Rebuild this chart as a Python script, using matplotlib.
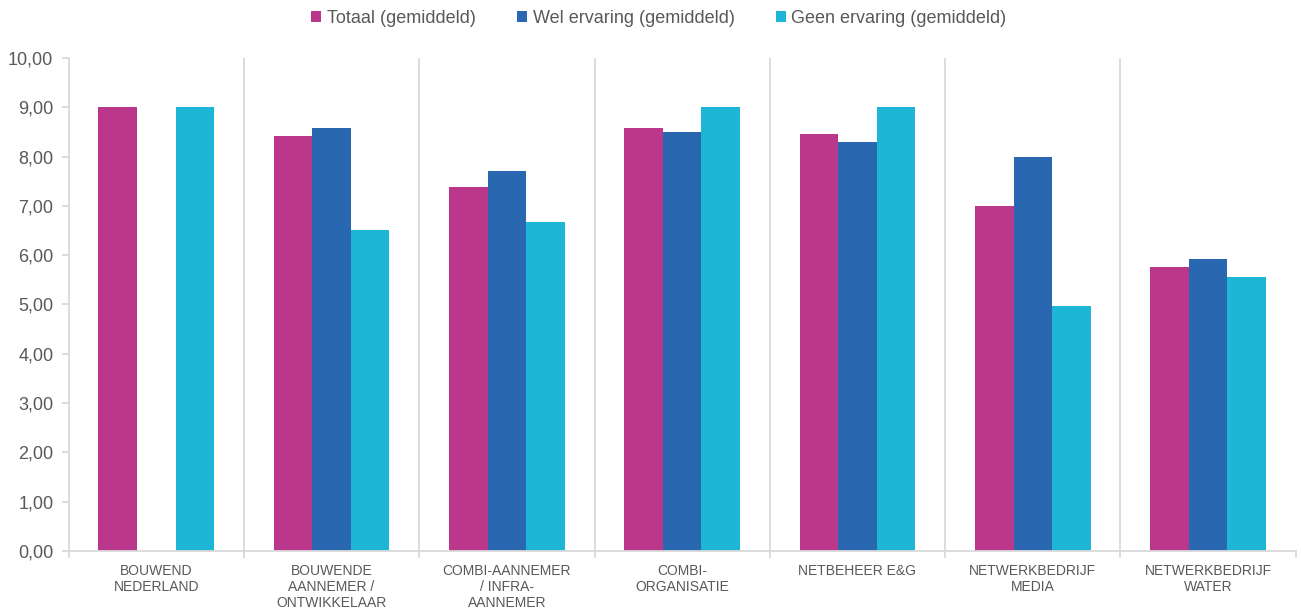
import numpy as np
import matplotlib
matplotlib.use("Agg")
import matplotlib.pyplot as plt

plt.rcParams['font.family'] = ['Liberation Sans', 'DejaVu Sans']

categories = ["BOUWEND\nNEDERLAND", "BOUWENDE\nAANNEMER /\nONTWIKKELAAR",
              "COMBI-AANNEMER\n/ INFRA-\nAANNEMER", "COMBI-\nORGANISATIE",
              "NETBEHEER E&G", "NETWERKBEDRIJF\nMEDIA", "NETWERKBEDRIJF\nWATER"]
series_names = ["Totaal (gemiddeld)", "Wel ervaring (gemiddeld)", "Geen ervaring (gemiddeld)"]
totaal = [9.00, 8.42, 7.38, 8.58, 8.46, 7.00, 5.76]
wel = [np.nan, 8.58, 7.71, 8.50, 8.30, 8.00, 5.92]
geen = [9.00, 6.51, 6.67, 9.00, 9.00, 4.97, 5.56]
yticks = [0, 1, 2, 3, 4, 5, 6, 7, 8, 9, 10]
colors = ["#BA378B", "#2A67B1", "#1EB6D6"]

fig = plt.figure(figsize=(13.01, 6.10), dpi=100)
ax = fig.add_axes([0.0527, 0.0967, 0.9433, 0.8083])

x = np.arange(len(categories))
w = 0.22
for i, (vals, name, c) in enumerate(zip([totaal, wel, geen], series_names, colors)):
    ax.bar(x + (i - 1) * w, vals, w, color=c, label=name, edgecolor='none')

ax.set_xlim(-0.5, len(categories) - 0.5)
ax.set_ylim(0, 10)
grey = "#D9D9D9"
for b in np.arange(0.5, len(categories) - 0.5, 1):
    ax.axvline(b, color=grey, lw=1.3, zorder=0)

ax.set_yticks(yticks)
ax.set_yticklabels([f"{v:.2f}".replace('.', ',') for v in yticks], fontsize=13, color="#595959")
ax.set_xticks(x)
ax.set_xticklabels(categories, fontsize=10, color="#595959", linespacing=1.2)
ax.set_xticks(np.arange(-0.5, len(categories), 1), minor=True)
ax.tick_params(axis='x', which='major', length=0, pad=9)
ax.tick_params(axis='x', which='minor', length=5, color=grey, width=1.3)
ax.tick_params(axis='y', length=5, color=grey, width=1.3, pad=6)

for s in ['top', 'right']:
    ax.spines[s].set_visible(False)
for s in ['left', 'bottom']:
    ax.spines[s].set_color(grey)
    ax.spines[s].set_linewidth(1.3)

leg = fig.legend(loc='center', bbox_to_anchor=(0.5065, 0.97), ncol=3, frameon=False,
                 fontsize=13, handlelength=0.55, handleheight=0.55, handletextpad=0.3,
                 columnspacing=2.3)
for t in leg.get_texts():
    t.set_color("#595959")

fig.savefig("out.png", dpi=100)
